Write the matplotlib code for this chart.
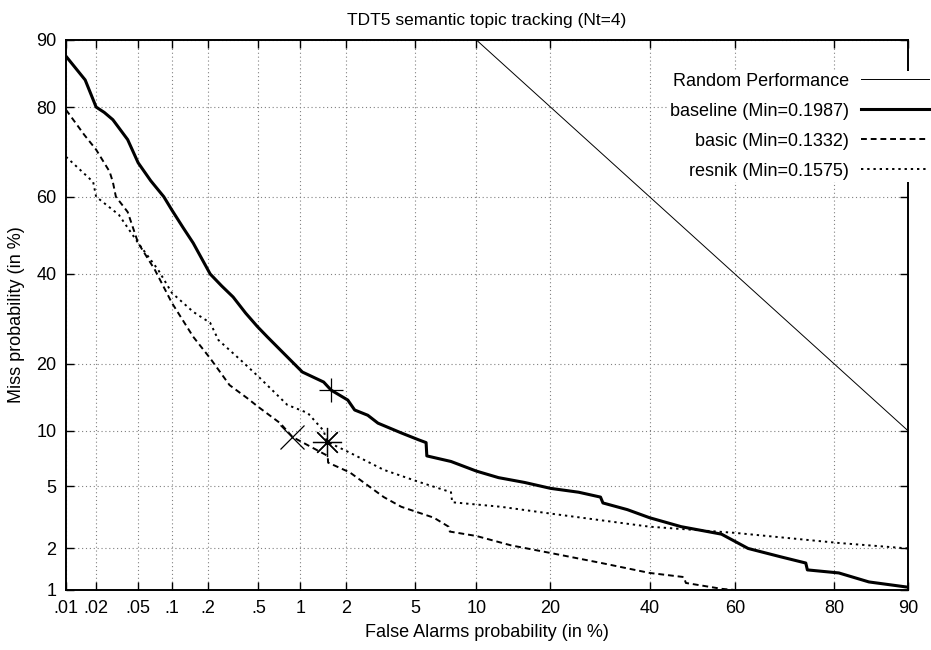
import numpy as np
import matplotlib
matplotlib.use("Agg")
import matplotlib.pyplot as plt
from statistics import NormalDist

# DET curves, values in percent
baseline_fa = [0.01, 0.0156, 0.02, 0.024, 0.029, 0.04, 0.05, 0.065, 0.085, 0.1, 0.125, 0.152,
               0.21, 0.26, 0.32, 0.4, 0.49, 0.58, 0.76, 1.03, 1.43, 1.6, 2.04, 2.25, 2.7, 3.1,
               4.2, 5.2, 5.7, 5.75, 7.6, 10, 12.5, 16, 20, 25, 29.3, 29.8, 35, 40, 47.4, 56.9,
               63, 70, 75, 75.3, 80.8, 85.3, 90]
baseline_miss = [88, 84.6, 80, 79, 77.6, 73.5, 68.3, 64, 60, 56.6, 52, 48,
                 40, 37, 34.3, 30.5, 27.5, 25.3, 22, 18.5, 16.8, 15.5, 14, 12.6, 11.9, 10.9,
                 9.75, 9.0, 8.7, 7.4, 6.9, 6.1, 5.6, 5.25, 4.85, 4.6, 4.3, 3.96, 3.6, 3.2, 2.8,
                 2.5, 2.0, 1.75, 1.58, 1.41, 1.34, 1.15, 1.05]

basic_fa = [0.01, 0.0153, 0.02, 0.027, 0.029, 0.031, 0.04, 0.05, 0.071, 0.1, 0.152, 0.21,
            0.3, 0.41, 0.5, 0.72, 0.88, 1.52, 1.53, 2.1, 3.35, 4.2, 6.25, 7.4, 7.5, 10, 14.1,
            20, 29.5, 40, 48, 48.5, 57, 60]
basic_miss = [79.5, 74.5, 71.3, 66.2, 63.7, 60, 56.1, 48, 41, 32.9, 25.3, 21,
              16.3, 14.3, 13, 10.9, 9.3, 7.4, 6.8, 6.0, 4.3, 3.75, 3.2, 2.8, 2.6, 2.43, 2.1,
              1.86, 1.58, 1.34, 1.25, 1.13, 1.02, 1.0]

resnik_fa = [0.01, 0.0187, 0.02, 0.033, 0.05, 0.076, 0.1, 0.152, 0.21, 0.245, 0.365, 0.5,
             0.81, 1.12, 1.43, 1.5, 2.1, 3.35, 5.2, 7.6, 7.7, 12.8, 20, 40, 60, 80.8, 90]
resnik_miss = [69.7, 63.7, 60, 55.4, 48, 41, 35.3, 30.8, 28.3, 24.6, 20.7, 17.7,
               13.3, 12.2, 10, 8.8, 7.7, 6.2, 5.3, 4.6, 4.0, 3.75, 3.4, 2.8, 2.55, 2.18, 2.0]

random_fa = [10, 90]
random_miss = [90, 10]

# minimum cost points
min_fa = [1.6, 0.88, 1.5]
min_miss = [15.5, 9.3, 8.8]

xticks = [0.01, 0.02, 0.05, 0.1, 0.2, 0.5, 1, 2, 5, 10, 20, 40, 60, 80, 90]
xlabels = [".01", ".02", ".05", ".1", ".2", ".5", "1", "2", "5", "10", "20", "40", "60", "80", "90"]
yticks = [1, 2, 5, 10, 20, 40, 60, 80, 90]
ylabels = ["1", "2", "5", "10", "20", "40", "60", "80", "90"]

nd = NormalDist()
_ppf = np.vectorize(nd.inv_cdf, otypes=[float])
_cdf = np.vectorize(nd.cdf, otypes=[float])


def probit(p):
    p = np.clip(np.asarray(p, dtype=float) / 100.0, 1e-9, 1 - 1e-9)
    return _ppf(p)


def inv_probit(z):
    return _cdf(np.asarray(z, dtype=float)) * 100.0


plt.rcParams["font.family"] = ["Liberation Sans", "DejaVu Sans"]
plt.rcParams["font.size"] = 13

fig = plt.figure(figsize=(9.31, 6.5), dpi=100)
ax = fig.add_axes([66 / 931, 1 - 590 / 650, (908 - 66) / 931, (590 - 40) / 650])
ax.set_xscale("function", functions=(probit, inv_probit))
ax.set_yscale("function", functions=(probit, inv_probit))

ax.plot(random_fa, random_miss, color="black", lw=0.7, label="Random Performance")
ax.plot(baseline_fa, baseline_miss, color="black", lw=2.2, label="baseline (Min=0.1987)")
ax.plot(basic_fa, basic_miss, color="black", lw=1.4, linestyle=(0, (3, 2)),
        label="basic (Min=0.1332)")
ax.plot(resnik_fa, resnik_miss, color="black", lw=1.4, linestyle=(0, (1.2, 2)),
        label="resnik (Min=0.1575)")

ax.plot(min_fa[0], min_miss[0], marker="+", ms=17, mew=0.9, color="black", ls="none")
ax.plot(min_fa[1], min_miss[1], marker="x", ms=17, mew=0.9, color="black", ls="none")
ax.plot(min_fa[2], min_miss[2], marker=(8, 2, 0), ms=21, mew=0.9, color="black", ls="none")

ax.set_xlim(0.01, 90)
ax.set_ylim(1, 90)
ax.set_xticks(xticks)
ax.set_xticklabels(xlabels)
ax.set_yticks(yticks)
ax.set_yticklabels(ylabels)
ax.minorticks_off()
ax.tick_params(direction="in", length=6, width=1, top=True, right=True, pad=7)
ax.grid(True, color="0.5", linestyle=(0, (1, 2.5)), lw=0.8)
for s in ax.spines.values():
    s.set_linewidth(1.4)

ax.set_title("TDT5 semantic topic tracking (Nt=4)", fontsize=12.5, pad=11)
ax.set_xlabel("False Alarms probability (in %)", labelpad=5)
ax.set_ylabel("Miss probability (in %)", labelpad=8)

leg = ax.legend(loc="upper right", bbox_to_anchor=(1.0, 1 - 71 / 650),
                bbox_transform=fig.transFigure, markerfirst=False, frameon=True,
                fancybox=False, framealpha=1, facecolor="white", edgecolor="none",
                handlelength=3.8, handletextpad=0.65, labelspacing=0.72,
                borderpad=0.1, borderaxespad=0)

plt.savefig("out.png", dpi=100)
